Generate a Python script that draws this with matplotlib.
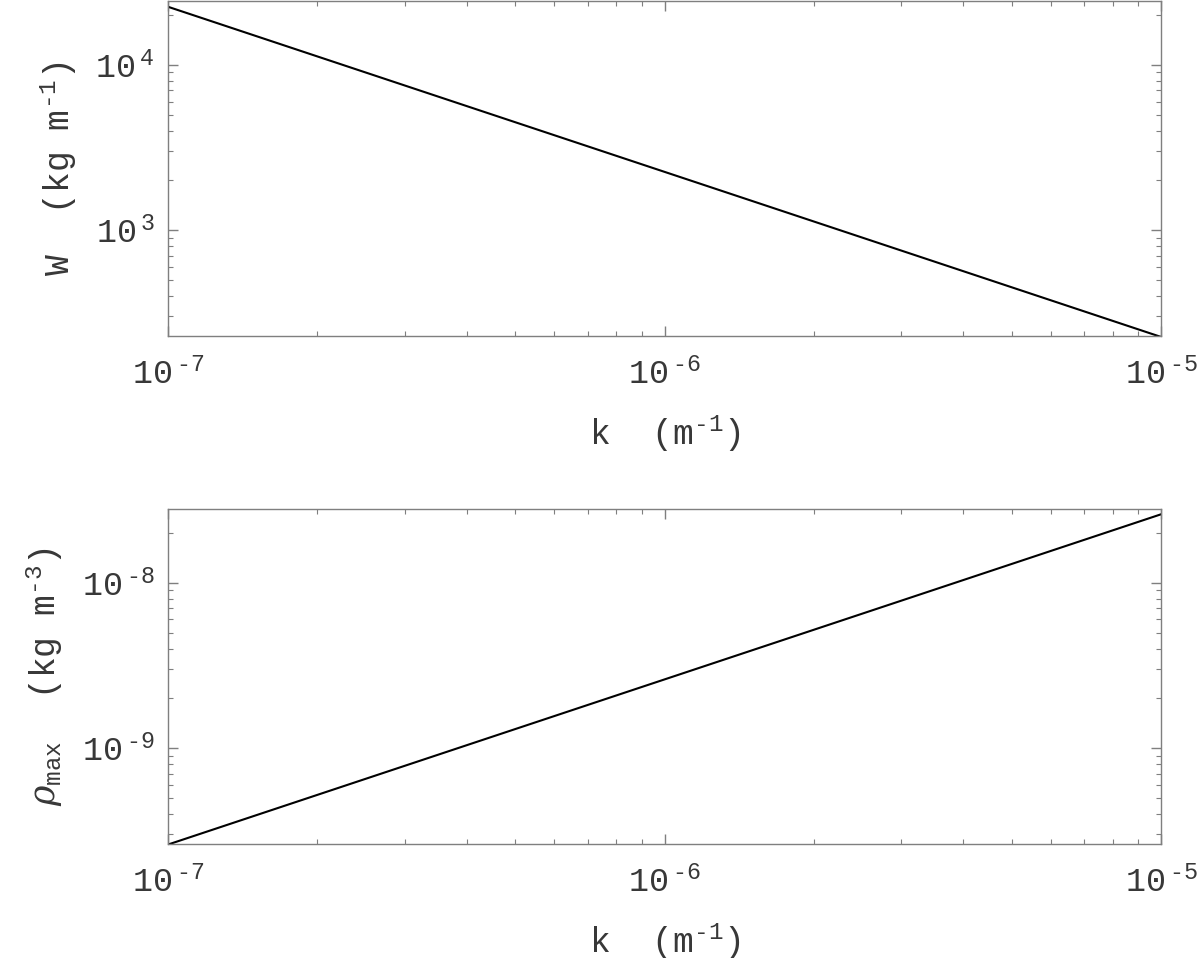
import matplotlib
matplotlib.use('Agg')
import numpy as np
import matplotlib.pyplot as plt
from matplotlib.ticker import LogLocator, NullFormatter, FuncFormatter

# values (log-log straight lines)
k_values = [1e-7, 1e-6, 1e-5]
w_values = [2.25e4, 2.25e3, 2.25e2]
rho_values = [2.6e-10, 2.6e-9, 2.6e-8]

plt.rcParams['font.family'] = ['Liberation Mono', 'DejaVu Sans']
plt.rcParams['mathtext.fontset'] = 'custom'
plt.rcParams['mathtext.rm'] = 'Liberation Mono'
plt.rcParams['mathtext.it'] = 'DejaVu Serif:italic'
plt.rcParams['mathtext.default'] = 'regular'
plt.rcParams['axes.unicode_minus'] = False

text_col = '#383838'
frame_col = '#7f7f7f'
tick_size = 24
label_size = 25
HY = '\u2010'  # short hyphen, closer to the reference than the math minus

fig = plt.figure(figsize=(12, 9.58), dpi=100)
ax1 = fig.add_axes([0.14, 0.6493, 0.8275, 0.3497])
ax2 = fig.add_axes([0.14, 0.119, 0.8275, 0.3497])

def pow10(v, pos):
    e = int(round(np.log10(v)))
    s = (HY + str(-e)) if e < 0 else str(e)
    return r'$\mathdefault{10^{\,%s}}$' % s

def style_axes(ax):
    ax.set_xscale('log')
    ax.set_yscale('log')
    ax.set_xlim(1e-7, 1e-5)
    for spine in ax.spines.values():
        spine.set_color(frame_col)
        spine.set_linewidth(1.0)
    ax.xaxis.set_major_locator(LogLocator(base=10, numticks=10))
    ax.xaxis.set_minor_locator(LogLocator(base=10, subs=range(2, 10), numticks=20))
    ax.xaxis.set_major_formatter(FuncFormatter(pow10))
    ax.yaxis.set_major_formatter(FuncFormatter(pow10))
    ax.xaxis.set_minor_formatter(NullFormatter())
    ax.yaxis.set_minor_formatter(NullFormatter())
    ax.tick_params(which='both', direction='in', top=True, right=True,
                   color=frame_col, labelcolor=text_col, labelsize=tick_size)
    ax.tick_params(which='major', length=7, width=1.0)
    ax.tick_params(axis='x', which='major', pad=16)
    ax.tick_params(axis='y', which='major', pad=10)
    ax.tick_params(which='minor', length=3.6, width=0.8)

ax1.plot(k_values, w_values, color='black', linewidth=1.5)
style_axes(ax1)
ax1.set_ylim(2.28e2, 2.44e4)
ax1.set_xlabel('k  (m$^{%s1}$)' % HY, fontsize=label_size, color=text_col, labelpad=16)
ax1.set_ylabel('W  (kg m$^{%s1}$)' % HY, fontsize=label_size, color=text_col, labelpad=12)

ax2.plot(k_values, rho_values, color='black', linewidth=1.5)
style_axes(ax2)
ax2.set_ylim(2.62e-10, 2.8e-8)
ax2.set_xlabel('k  (m$^{%s1}$)' % HY, fontsize=label_size, color=text_col, labelpad=16)
ax2.set_ylabel(r'$\mathit{\rho}_{max}$  (kg m$^{%s3}$)' % HY, fontsize=label_size,
               color=text_col, labelpad=12)

fig.savefig('out.png', dpi=100)
